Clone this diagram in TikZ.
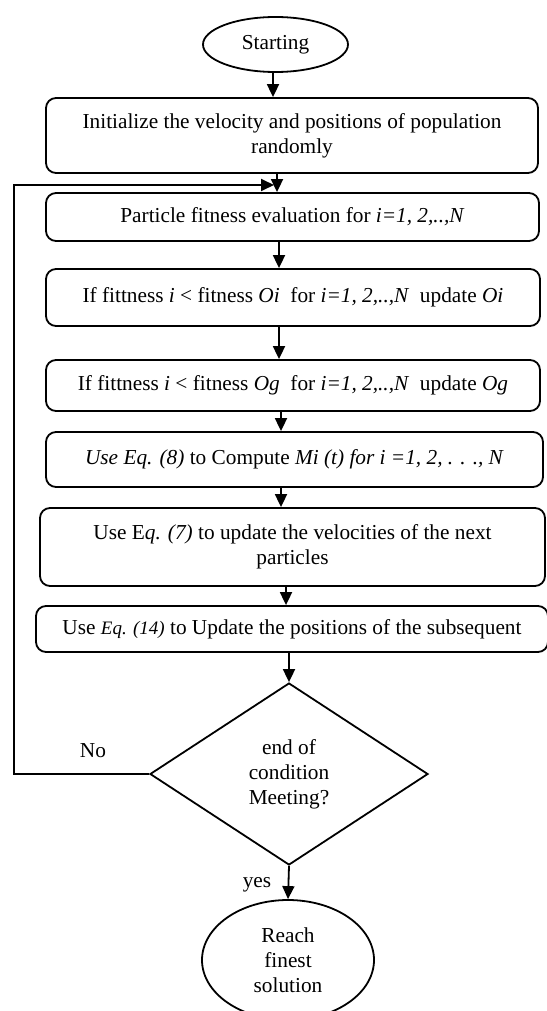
\documentclass[tikz,border=0pt]{standalone}
\usepackage{fontspec}
\setmainfont{Liberation Serif}
\usetikzlibrary{shapes.geometric,arrows.meta}
\begin{document}
\begin{tikzpicture}[x=1pt,y=-1pt,line width=1.8pt,
  txt/.style={font=\fontsize{21.3}{25}\selectfont},
  box/.style={draw, rounded corners=10pt, inner sep=0pt, align=center, txt},
  term/.style={draw, ellipse, inner sep=0pt, align=center, txt},
  decision/.style={draw, diamond, inner sep=0pt, align=center, txt},
  arr/.style={-{Triangle[length=13pt,width=12pt]}},
  lbl/.style={inner sep=0pt, txt}]
\useasboundingbox (0,0) rectangle (546,1011);

\node[term, minimum width=145pt, minimum height=55pt] (start) at (275.5,44.5) {Starting};
\node[box, minimum width=492pt, minimum height=75pt] (b1) at (292,135.5)
  {Initialize the velocity and positions of population\\randomly};
\node[box, minimum width=493pt, minimum height=48pt] (b2) at (292.5,217)
  {Particle fitness evaluation for \textit{i=1, 2,..,N}};
\node[box, minimum width=494pt, minimum height=57pt] (b3) at (293,297.5)
  {If fittness \textit{i} < fitness \textit{Oi}\ \ for \textit{i=1, 2,..,N}\ \ update \textit{Oi}};
\node[box, minimum width=494pt, minimum height=51pt] (b4) at (293,385.5)
  {If fittness \textit{i} < fitness \textit{Og}\ \ for \textit{i=1, 2,..,N}\ \ update \textit{Og}};
\node[box, minimum width=497pt, minimum height=55pt] (b5) at (294.5,459.5)
  {\textit{Use Eq. (8)} to Compute \textit{Mi (t) for i =1, 2, . . ., N}};
\node[box, minimum width=505pt, minimum height=78pt] (b6) at (292.5,547)
  {Use E\textit{q. (7)} to update the velocities of the next\\particles};
\node[box, minimum width=512pt, minimum height=46pt] (b7) at (292,629)
  {Use {\fontsize{19}{21}\selectfont\textit{Eq. (14)}} to Update the positions of the subsequent};
\node[decision, minimum width=278pt, minimum height=182pt] (dia) at (289,774)
  {end of\\condition\\Meeting?};
\node[term, minimum width=172pt, minimum height=120pt] (end) at (288,960)
  {Reach\\finest\\solution};

\node[lbl] (no) at (93,751) {No};
\node[lbl] (yes) at (257,885) {yes};

\coordinate (lc) at (14,185);
\coordinate (lt) at (274,185);

\draw[arr] (start.south -| 273,0) -- (273,0 |- b1.north);
\draw[arr] (b1.south -| 277,0) -- (277,0 |- b2.north);
\draw[arr] (b2.south -| 279,0) -- (279,0 |- b3.north);
\draw[arr] (b3.south -| 279,0) -- (279,0 |- b4.north);
\draw[arr] (b4.south -| 281,0) -- (281,0 |- b5.north);
\draw[arr] (b5.south -| 281,0) -- (281,0 |- b6.north);
\draw[arr] (b6.south -| 286,0) -- (286,0 |- b7.north);
\draw[arr] (b7.south -| dia.north) -- (dia.north);
\draw[arr] (dia.south) -- (end.north);
\draw[arr] (dia.west) -| (lc) -- (lt);
\end{tikzpicture}
\end{document}
